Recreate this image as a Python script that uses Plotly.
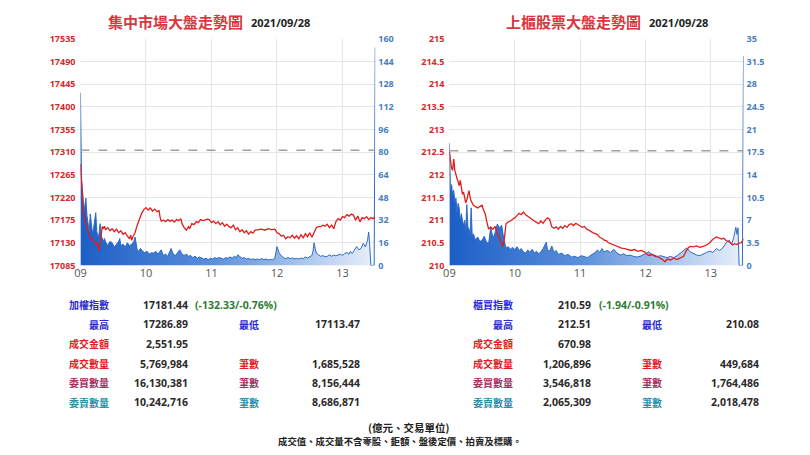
import plotly.graph_objects as go

# ---------------- data ----------------
hour_ticks = [0, 60, 120, 180, 240]
hour_labels = ["09", "10", "11", "12", "13"]

# TWSE (left) -- minutes after 09:00
twse_price_t = [0,1,2,3,4,5,6,7,8,9,10,11,12,13,14,15,16,17,18,19,20,21,22,23,25,27,29,31,33,35,37,39,41,43,45,46,47,48,50,52,54,56,58,60,62,64,66,68,70,72,73,74,76,78,80,82,84,86,88,90,92,93,95,97,99,100,102,104,106,108,110,112,114,116,118,120,122,124,126,128,130,132,134,136,138,140,142,144,146,148,150,152,154,156,158,160,163,166,169,172,175,178,180,182,184,186,188,190,192,194,196,198,200,202,204,206,208,210,212,214,216,218,220,222,224,226,228,230,232,234,236,238,240,242,244,246,248,250,252,254,256,258,260,262,264,266,268,270]
twse_price = [17286,17255,17205,17188,17175,17168,17160,17150,17145,17140,17136,17138,17133,17130,17128,17131,17122,17114,17130,17150,17162,17158,17163,17156,17160,17154,17158,17152,17157,17150,17154,17147,17150,17143,17138,17145,17135,17142,17150,17165,17178,17188,17196,17200,17195,17199,17193,17197,17192,17194,17180,17173,17175,17172,17176,17173,17175,17171,17176,17174,17178,17168,17160,17155,17162,17158,17168,17166,17172,17170,17176,17174,17175,17177,17176,17170,17173,17168,17172,17166,17170,17163,17167,17162,17160,17165,17156,17160,17152,17156,17150,17154,17147,17152,17149,17155,17156,17157,17155,17158,17156,17157,17150,17148,17143,17145,17138,17142,17140,17145,17139,17144,17138,17146,17140,17148,17142,17150,17141,17150,17160,17162,17162,17165,17163,17167,17160,17165,17158,17172,17178,17175,17182,17180,17186,17183,17187,17185,17175,17183,17172,17180,17178,17182,17176,17180,17178,17181.44]

twse_vol_t = [0,1,2,3,4,5,6,7,8,9,10,11,12,13,14,15,16,17,18,19,20,21,22,23,25,27,29,31,33,35,36,37,39,41,43,45,47,49,50,51,52,53,55,57,59,61,63,65,67,69,71,74,76,78,80,83,85,87,89,91,93,95,97,99,101,103,105,107,109,111,113,115,117,119,121,123,125,127,129,131,133,135,137,139,141,143,144,146,148,150,152,154,156,158,160,162,164,166,168,170,172,174,176,178,179,180,181,182,184,186,188,190,192,194,196,198,200,202,204,206,208,210,212,213,214,215,216,218,220,222,224,226,228,230,232,234,236,238,240,242,244,246,247,249,251,253,255,257,259,261,263,264,265,266,269,270]
twse_vol = [122,60,52,38,42,47.6,35,27,24,36.4,30,22.7,26,31,37.3,24,20,22,29.5,21,18,17,19,16.7,14,17,16,13,15,17,19,14,15,13,16,14,15,17,20,14,11,10,12,10,9,10,8,9,8.7,10,8,11,7,8,6.5,12,8,7,9,11,8,7,8,6.4,7,5.5,6.5,5,6,5.3,4.5,5,4.1,5,4.5,5.5,4.8,5.6,5.3,4.5,5.5,5,6,5.2,6.4,5.5,7.5,6,5,5.5,4.5,5,4.2,4.6,4,4.5,4.1,4.8,4.1,4.5,3.8,4.2,4,5,9,13.3,11,8.7,7,5.3,4.8,5.5,4.8,5.3,4.6,5,4.5,5.2,4.8,6,5.2,6.4,7,10,16,12,8.7,7.5,6.4,7,6,6.4,7.5,6.5,7.2,6.8,7.5,8,7,8.5,9,8,9.8,8.5,11,13.3,11,12,15.6,13,18,23.6,13.3,0,0,154]

twse_prev_close = 17313.77
twse_price_ticks = [17085,17130,17175,17220,17265,17310,17355,17400,17445,17490,17535]
twse_price_ticktext = ["17085","17130","17175","17220","17265","17310","17355","17400","17445","17490","17535"]
twse_vol_ticks = [0,16,32,48,64,80,96,112,128,144,160]
twse_vol_ticktext = ["0","16","32","48","64","80","96","112","128","144","160"]

# TPEx (right)
tpex_price_t = [0,1,2,3,4,5,6,7,8,9,10,11,12,13,14,15,16,17,18,19,20,22,24,26,28,30,31,32,33,34,35,36,38,40,42,44,46,48,49,50,51,52,54,56,58,60,62,64,66,68,70,72,74,76,78,80,82,84,86,88,90,92,94,96,98,100,102,104,106,108,110,112,114,116,118,120,122,124,126,128,130,132,134,136,138,140,142,144,146,148,150,152,155,158,161,164,167,170,173,176,179,181,183,186,189,192,195,198,200,203,206,209,212,215,217,219,221,224,227,230,233,236,239,242,245,248,250,252,254,256,258,260,262,264,266,268,270]
tpex_price = [212.51,212.3,212.15,212.1,212.35,212.1,211.98,211.92,211.85,211.76,211.88,211.7,211.57,211.62,211.5,211.38,211.45,211.55,211.65,211.5,211.42,211.33,211.3,211.27,211.3,211.33,211.25,211.2,211.13,211.0,210.88,210.8,210.85,210.8,210.86,210.7,210.6,210.45,210.42,210.5,210.75,210.92,210.96,210.98,211.02,211.05,211.1,211.15,211.12,211.18,211.12,211.08,211.05,211.0,210.98,210.95,210.92,210.98,210.93,211.0,211.05,211.02,210.85,210.82,210.85,210.8,210.86,210.82,210.88,210.84,210.9,210.92,210.88,210.93,210.9,210.88,210.84,210.86,210.8,210.78,210.74,210.72,210.7,210.68,210.62,210.6,210.56,210.55,210.5,210.48,210.45,210.43,210.4,210.38,210.37,210.35,210.33,210.35,210.31,210.33,210.3,210.25,210.22,210.24,210.2,210.18,210.14,210.08,210.14,210.12,210.16,210.13,210.17,210.2,210.3,210.38,210.42,210.41,210.43,210.4,210.42,210.45,210.5,210.58,210.63,210.6,210.58,210.6,210.55,210.53,210.5,210.45,210.48,210.46,210.49,210.5,210.59]

tpex_vol_t = [0,1,2,3,4,5,6,7,8,9,10,11,12,13,14,15,16,17,18,19,20,21,22,24,26,28,30,32,34,36,38,40,42,44,46,48,50,52,54,56,58,60,62,64,66,68,70,72,74,76,78,80,82,84,86,88,89,90,92,94,96,98,100,103,106,109,112,115,118,121,124,127,130,133,136,138,140,142,145,148,151,154,157,160,163,166,169,172,175,178,181,183,185,188,191,194,197,200,203,206,209,212,215,218,221,224,227,230,233,236,239,242,245,248,251,254,257,259,261,263,264,265,266,269,270]
tpex_vol = [18.9,11.5,12.5,10.8,11.6,9.8,10.4,8.2,9.6,8.9,7.0,8.0,6.9,6.2,7.0,5.4,9.4,5.9,5.6,4.9,8.9,4.4,4.9,3.9,4.4,3.7,3.9,4.5,3.6,3.4,5.9,4.2,5.1,6.4,5.8,6.2,4.0,2.7,2.9,2.5,2.8,2.4,2.9,2.3,2.6,2.1,1.9,2.4,2.0,2.5,1.9,2.2,1.8,2.1,2.6,3.2,3.6,2.4,2.2,3.0,2.0,2.3,1.7,1.9,1.5,1.7,1.3,1.4,1.2,1.5,1.3,1.2,1.6,1.9,2.4,2.0,2.6,2.1,2.3,2.0,2.5,1.9,1.6,1.8,1.5,1.6,1.4,1.3,1.4,1.6,1.9,2.1,1.8,1.6,1.4,1.5,1.3,1.2,1.4,1.2,1.5,1.9,2.3,2.7,2.1,1.8,1.6,1.5,1.8,2.0,2.2,2.0,2.6,2.3,2.7,3.5,3.9,3.2,4.3,5.9,4.8,5.8,0,0,32.4]

tpex_prev_close = 212.53
tpex_price_ticks = [210,210.5,211,211.5,212,212.5,213,213.5,214,214.5,215]
tpex_price_ticktext = ["210","210.5","211","211.5","212","212.5","213","213.5","214","214.5","215"]
tpex_vol_ticks = [0,3.5,7,10.5,14,17.5,21,24.5,28,31.5,35]
tpex_vol_ticktext = ["0","3.5","7","10.5","14","17.5","21","24.5","28","31.5","35"]

titles = ["集中市場大盤走勢圖", "上櫃股票大盤走勢圖"]
title_date = "2021/09/28"

left_labels = ["加權指數", "最高", "成交金額", "成交數量", "委買數量", "委賣數量"]
left_values = ["17181.44", "17286.89", "2,551.95", "5,769,984", "16,130,381", "10,242,716"]
left_change = "(-132.33/-0.76%)"
left_mid_labels = ["", "最低", "", "筆數", "筆數", "筆數"]
left_mid_values = ["", "17113.47", "", "1,685,528", "8,156,444", "8,686,871"]

right_labels = ["櫃買指數", "最高", "成交金額", "成交數量", "委買數量", "委賣數量"]
right_values = ["210.59", "212.51", "670.98", "1,206,896", "3,546,818", "2,065,309"]
right_change = "(-1.94/-0.91%)"
right_mid_labels = ["", "最低", "", "筆數", "筆數", "筆數"]
right_mid_values = ["", "210.08", "", "449,684", "1,764,486", "2,018,478"]

footer_lines = ["(億元、交易單位)", "成交值、成交量不含零股、鉅額、盤後定價、拍賣及標購。"]

# ---------------- styling ----------------
W, H = 810, 455
CJK = "Noto Sans CJK TC"
NUM = "Open Sans"
row_colors = ["#2a2ad0", "#2a2ad0", "#e0201e", "#e0201e", "#a3305f", "#2a8fab"]
RED = "#e01e1e"
VOL_LINE = "#2f6bc4"
GRID = "#e6e6e6"

def px(x):
    return x / W

def py(y):
    return 1 - y / H

top, bottom = 33, 266
ydom = [py(bottom), py(top)]

fig = go.Figure()

grad = dict(type="horizontal", colorscale=[[0, "#1b5ec6"], [0.45, "#5b90db"], [1, "#e8f0fb"]])

fig.add_trace(go.Scatter(x=twse_vol_t, y=twse_vol, mode="lines", fill="tozeroy",
                         line=dict(color=VOL_LINE, width=1), fillgradient=grad,
                         xaxis="x", yaxis="y", hoverinfo="skip", cliponaxis=False))
fig.add_trace(go.Scatter(x=twse_price_t, y=twse_price, mode="lines",
                         line=dict(color=RED, width=1.3), xaxis="x", yaxis="y2", hoverinfo="skip"))
fig.add_trace(go.Scatter(x=tpex_vol_t, y=tpex_vol, mode="lines", fill="tozeroy",
                         line=dict(color=VOL_LINE, width=1), fillgradient=grad,
                         xaxis="x2", yaxis="y3", hoverinfo="skip", cliponaxis=False))
fig.add_trace(go.Scatter(x=tpex_price_t, y=tpex_price, mode="lines",
                         line=dict(color=RED, width=1.3), xaxis="x2", yaxis="y4", hoverinfo="skip"))

xcommon = dict(range=[0, 270], tickvals=hour_ticks, ticktext=hour_labels, showgrid=True,
               gridcolor=GRID, zeroline=False, showline=False, ticks="",
               tickfont=dict(family=NUM, size=11, color="#555"), fixedrange=True)
red_tf = dict(family=NUM, size=9, color="#d42a2a", weight="bold")
blue_tf = dict(family=NUM, size=9, color="#4a7ebb", weight="bold")

fig.update_layout(
    width=W, height=H, margin=dict(l=0, r=0, t=0, b=0), autosize=False,
    paper_bgcolor="white", plot_bgcolor="white", showlegend=False,
    xaxis=dict(domain=[px(75), px(372)], anchor="y", **xcommon),
    xaxis2=dict(domain=[px(446.7), px(743)], anchor="y3", **xcommon),
    yaxis=dict(domain=ydom, anchor="x", side="right", range=[0, 160], tickvals=twse_vol_ticks,
               ticktext=twse_vol_ticktext,
               showgrid=True, gridcolor=GRID, zeroline=False, tickfont=blue_tf,
               ticklabelstandoff=2, ticks=""),
    yaxis2=dict(overlaying="y", anchor="x", side="left", range=[17085, 17535],
                tickvals=twse_price_ticks, ticktext=twse_price_ticktext,
                showgrid=False, zeroline=False, tickfont=red_tf,
                ticklabelstandoff=4, ticks=""),
    yaxis3=dict(domain=ydom, anchor="x2", side="right", range=[0, 35], tickvals=tpex_vol_ticks,
                ticktext=tpex_vol_ticktext,
                showgrid=True, gridcolor=GRID, zeroline=False, tickfont=blue_tf,
                ticklabelstandoff=2, ticks=""),
    yaxis4=dict(overlaying="y3", anchor="x2", side="left", range=[210, 215],
                tickvals=tpex_price_ticks, ticktext=tpex_price_ticktext, showgrid=False,
                zeroline=False, tickfont=red_tf, ticklabelstandoff=4, ticks=""),
)

# previous close dashed lines
fig.add_shape(type="line", xref="x", yref="y2", x0=0, x1=270, y0=twse_prev_close, y1=twse_prev_close,
              line=dict(color="#a0a0a0", width=1.5, dash="dash"))
fig.add_shape(type="line", xref="x2", yref="y4", x0=0, x1=270, y0=tpex_prev_close, y1=tpex_prev_close,
              line=dict(color="#a0a0a0", width=1.5, dash="dash"))

anns = []

def text(x, y, s, color="#2a2a2a", size=10.5, family=NUM, anchor="left", weight="bold"):
    anns.append(dict(x=px(x), y=py(y), xref="paper", yref="paper", text=s, showarrow=False,
                     xanchor=anchor, yanchor="middle",
                     font=dict(family=family, size=size, color=color, weight=weight)))

# titles
text(241, 15, titles[0], color="#d6383e", size=15, family=CJK, anchor="right")
text(245, 16, title_date, color="#222", size=11, family=NUM, anchor="left")
text(642, 15, titles[1], color="#d6383e", size=15, family=CJK, anchor="right")
text(646, 16, title_date, color="#222", size=11, family=NUM, anchor="left")

rows_y = [306.7, 326.7, 346.7, 367, 387, 407]
mid_colors = ["", "#2a2ad0", "", "#e0201e", "#a3305f", "#2a8fab"]

def table(labels, values, change, mids, midvals, lab_r, val_r, chg_l, mid_l, mv_r):
    for i, yy in enumerate(rows_y):
        text(lab_r, yy, labels[i], color=row_colors[i], size=10, family=CJK, anchor="right")
        text(val_r, yy, values[i], anchor="right")
        if mids[i]:
            text(mid_l, yy, mids[i], color=mid_colors[i], size=10, family=CJK, anchor="left")
            text(mv_r, yy, midvals[i], anchor="right")
    text(chg_l, rows_y[0], change, color="#2e7d32", anchor="left")

table(left_labels, left_values, left_change, left_mid_labels, left_mid_values,
      106, 185, 188, 233, 359)
table(right_labels, right_values, right_change, right_mid_labels, right_mid_values,
      513, 591, 595, 639, 761)

text(406, 433, footer_lines[0], color="#222", size=10.5, family=CJK, anchor="center")
text(397, 447, footer_lines[1], color="#222", size=9.4, family=CJK, anchor="center")

fig.update_layout(annotations=anns)
fig.write_html("out.html")
